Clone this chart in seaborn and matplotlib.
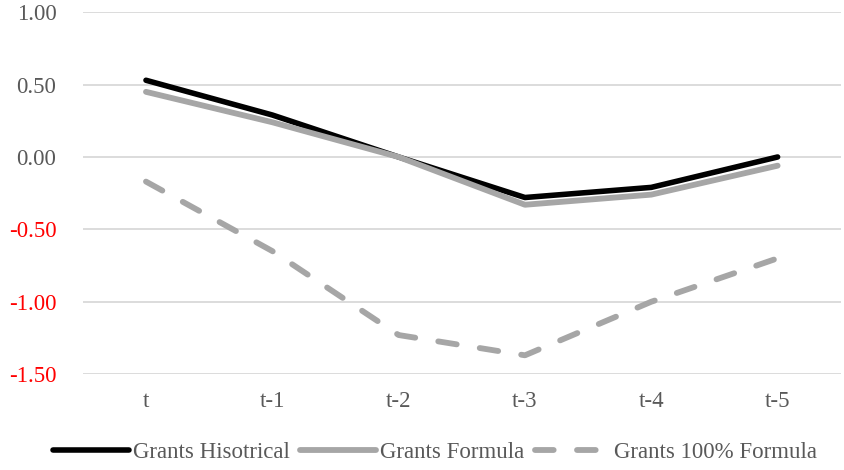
import pandas as pd
import seaborn as sns
import matplotlib.pyplot as plt

periods = ["t", "t-1", "t-2", "t-3", "t-4", "t-5"]
grants_historical = [0.53, 0.29, 0.00, -0.28, -0.21, 0.00]
grants_formula = [0.45, 0.24, 0.00, -0.33, -0.26, -0.06]
grants_full_formula = [-0.17, -0.65, -1.23, -1.37, -1.00, -0.70]

series_names = ["Grants Hisotrical", "Grants Formula", "Grants 100% Formula"]

df = pd.DataFrame({
    "period": periods * 3,
    "value": grants_historical + grants_formula + grants_full_formula,
    "series": [s for s in series_names for _ in periods],
})

sns.set_style("white")
plt.rcParams["font.family"] = ["Liberation Serif", "DejaVu Serif"]

fig = plt.figure(figsize=(8.45, 4.7), dpi=100)
ax = fig.add_axes([0.098, 0.204, 0.897, 0.770])

styles = {
    "Grants Hisotrical": dict(color="black", lw=4.0, ls="-"),
    "Grants Formula": dict(color="#a6a6a6", lw=4.2, ls="-"),
    "Grants 100% Formula": dict(color="#a6a6a6", lw=4.2, ls=(0, (3.2, 4.0))),
}

for name in series_names:
    st = styles[name]
    sub = df[df["series"] == name]
    sns.lineplot(data=sub, x="period", y="value", ax=ax, sort=False,
                 color=st["color"], linewidth=st["lw"], linestyle=st["ls"],
                 label=name, solid_capstyle="round", dash_capstyle="round")

ax.set_ylim(-1.5, 1.0)
ax.set_xlim(-0.5, len(periods) - 0.5)
ax.set_yticks([1.0, 0.5, 0.0, -0.5, -1.0, -1.5])
ax.set_yticklabels([f"{v:.2f}" for v in ax.get_yticks()])
for lbl, v in zip(ax.get_yticklabels(), ax.get_yticks()):
    lbl.set_color("red" if v < 0 else "#595959")
ax.tick_params(axis="y", labelsize=16.5, length=0, pad=19)
ax.tick_params(axis="x", labelsize=16.5, length=0, pad=12, labelcolor="#595959")
ax.yaxis.grid(True, color="#d9d9d9", lw=1.3)
ax.set_axisbelow(True)
for sp in ax.spines.values():
    sp.set_visible(False)
ax.set_xlabel("")
ax.set_ylabel("")

ax.legend(loc="upper center", bbox_to_anchor=(0.465, -0.142), ncol=3, frameon=False,
          fontsize=16.5, handlelength=3.3, handletextpad=0.18, columnspacing=0.45,
          labelcolor="#595959", borderaxespad=0.3)

fig.savefig("out.png", dpi=100)
